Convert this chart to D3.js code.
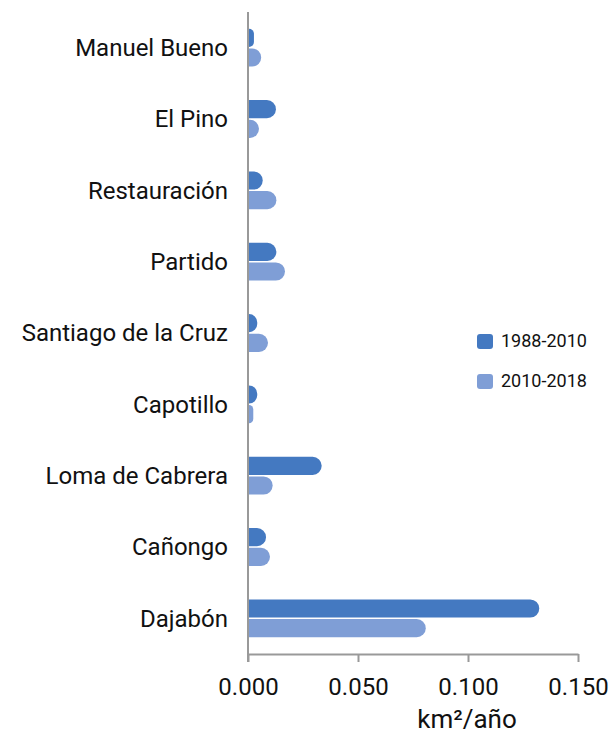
<!DOCTYPE html>
<html><head><meta charset="utf-8">
<script src="https://cdn.jsdelivr.net/npm/d3@7"></script>
<style>body{margin:0;background:#fff;font-family:Roboto,"Noto Sans",sans-serif;}</style>
</head><body><svg id="c" width="609" height="734"></svg>
<script>
const categories = ["Manuel Bueno","El Pino","Restauración","Partido","Santiago de la Cruz","Capotillo","Loma de Cabrera","Cañongo","Dajabón"];
const seriesNames = ["1988-2010","2010-2018"];
const values1988 = [0.0027,0.0127,0.0067,0.0129,0.0042,0.0042,0.0335,0.0082,0.1324];
const values2010 = [0.0060,0.0050,0.0129,0.0168,0.0091,0.0024,0.0112,0.0100,0.0808];
const xTicks = [0,0.05,0.1,0.15];
const colors = ["#4479C1","#7F9ED6"];

const svg = d3.select("#c");
const x = d3.scaleLinear().domain([0,0.15]).range([248,578]);
const y = d3.scaleBand().domain(categories).range([12,654]).paddingInner(0.47).paddingOuter(0.235);
const y1 = d3.scaleBand().domain(seriesNames).range([0,y.bandwidth()]).paddingInner(0.08);

function barPath(x0,x1,yt,h){
  const w = x1-x0; const r = Math.max(0,Math.min(h/2,w));
  return `M${x0},${yt}H${x1-r}A${r},${r} 0 0 1 ${x1},${yt+r}V${yt+h-r}A${r},${r} 0 0 1 ${x1-r},${yt+h}H${x0}Z`;
}
const data = categories.map((c,i)=>({c, v:[values1988[i],values2010[i]]}));
const g = svg.append("g");
data.forEach(d=>{
  seriesNames.forEach((s,j)=>{
    g.append("path").attr("d",barPath(x(0)+1,x(d.v[j]),y(d.c)+y1(s),y1.bandwidth())).attr("fill",colors[j]);
  });
});

svg.append("line").attr("x1",x(0)).attr("x2",x(0)).attr("y1",12).attr("y2",662).attr("stroke","#999").attr("stroke-width",2);
const xa = svg.append("g").attr("transform","translate(0,654)")
  .call(d3.axisBottom(x).tickValues(xTicks).tickFormat(d3.format(".3f")).tickSize(8).tickSizeOuter(0));
xa.select(".domain").attr("stroke","#999").attr("stroke-width",2);
xa.selectAll(".tick line").attr("stroke","#999").attr("stroke-width",2);
xa.selectAll(".tick text").attr("font-family","Roboto").attr("font-size",24).attr("fill","#111").attr("y",0).attr("dy",0).attr("transform","translate(0,41)");

svg.append("g").selectAll("text").data(categories).join("text")
  .attr("x",228).attr("y",d=>y(d)+y.bandwidth()/2).attr("dy","0.35em")
  .attr("text-anchor","end").attr("font-family","Roboto").attr("font-size",24).attr("fill","#111").text(d=>d);

svg.append("text").attr("x",467).attr("y",728).attr("text-anchor","middle").attr("font-family","Roboto").attr("font-size",26).attr("fill","#111").text("km²/año");

const lg = svg.append("g");
seriesNames.forEach((s,j)=>{
  const ly = 341 + j*40;
  lg.append("rect").attr("x",477).attr("y",ly-7).attr("width",16).attr("height",15).attr("rx",3).attr("fill",colors[j]);
  lg.append("text").attr("x",501).attr("y",ly).attr("dy","0.35em").attr("font-family","Roboto").attr("font-size",18).attr("fill","#111").text(s);
});
</script></body></html>
